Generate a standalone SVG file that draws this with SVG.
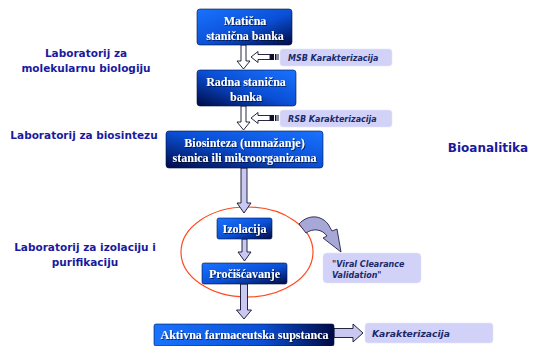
<svg xmlns="http://www.w3.org/2000/svg" width="540" height="346" viewBox="0 0 540 346">
<defs>
<linearGradient id="g1" x1="0" y1="0" x2="1" y2="1">
<stop offset="0" stop-color="#1a73ff"/><stop offset="0.55" stop-color="#0a4fd6"/><stop offset="1" stop-color="#000a45"/>
</linearGradient>
<linearGradient id="g2" x1="1" y1="0" x2="0" y2="1">
<stop offset="0" stop-color="#1a73ff"/><stop offset="0.5" stop-color="#0a4fd6"/><stop offset="1" stop-color="#000a45"/>
</linearGradient>
<linearGradient id="g3" x1="0" y1="0" x2="1" y2="0">
<stop offset="0" stop-color="#1a73ff"/><stop offset="0.6" stop-color="#0a4fd6"/><stop offset="1" stop-color="#000a45"/>
</linearGradient>
<filter id="sh" x="-10%" y="-10%" width="130%" height="140%">
<feDropShadow dx="1" dy="1" stdDeviation="0.6" flood-color="#000" flood-opacity="0.6"/>
</filter>
</defs>
<style>
.box{stroke:#001040;stroke-width:0.6}
.bt{font-family:"Liberation Serif",serif;font-weight:bold;font-size:12px;fill:#fff;text-anchor:middle}
.lb{fill:#d2d2f8;stroke:#e4e4fc;stroke-width:0.6}
.lt{font-family:"DejaVu Sans","Liberation Sans",sans-serif;font-weight:bold;font-style:italic;font-size:8px;fill:#1a2a6a}
.side{font-family:"DejaVu Sans","Liberation Sans",sans-serif;font-weight:bold;font-size:10.5px;fill:#1a1a9e;text-anchor:middle}
.ar{fill:#c8c8f0;stroke:#101030;stroke-width:0.9}
.ah{fill:#ffffff;stroke:#101030;stroke-width:0.9}
</style>

<g id="side-labels">
<text class="side" x="86" y="57">Laboratorij za</text>
<text class="side" x="86" y="72">molekularnu biologiju</text>
<text class="side" x="84" y="139">Laboratorij za biosintezu</text>
<text class="side" x="85" y="251">Laboratorij za izolaciju i</text>
<text class="side" x="85" y="266">purifikaciju</text>
<text class="side" x="488" y="151.5" style="font-size:12px">Bioanalitika</text>
</g>

<g id="ellipse"><ellipse cx="247" cy="252" rx="66" ry="45" fill="none" stroke="#ff4a20" stroke-width="1.2"/></g>

<g id="connectors">
<path class="ah" d="M241,45 H246 V61 H250 L243.5,69 L237,61 H241 Z"/>
<path class="ah" d="M251,57 L258,51.5 V54.5 H270 V59.5 H258 V62.5 Z"/>
<rect x="270" y="54" width="4" height="6" fill="#101030"/>
<rect x="275" y="54" width="1.5" height="6" fill="#101030"/>
<rect x="277.5" y="54" width="1" height="6" fill="#101030"/>
<path class="ah" d="M241,106 H246 V122 H250 L243.5,130 L237,122 H241 Z"/>
<path class="ah" d="M251,118 L258,112.5 V115.5 H270 V120.5 H258 V123.5 Z"/>
<rect x="270" y="115" width="4" height="6" fill="#101030"/>
<rect x="275" y="115" width="1.5" height="6" fill="#101030"/>
<rect x="277.5" y="115" width="1" height="6" fill="#101030"/>
<path class="ar" d="M241,168 H247 V203 H251 L244,213 L237,203 H241 Z"/>
<path class="ar" d="M242,239 H247 V252 H251 L244.5,261 L238,252 H242 Z"/>
<path class="ar" d="M240.5,284 H247.5 V310 H251.5 L244,319 L236.5,310 H240.5 Z"/>
<path class="ar" d="M334,328.5 H353 V324 L363,333 L353,342 V337.5 H334 Z"/>
<path d="M299,224 C307,215 320,214 328,224 L332,231 L337,229 L341,252 L323,238 L327,236 C322,229 313,228 306,233 Z" fill="#a8a8d8" stroke="#101030" stroke-width="0.8"/>
</g>

<g id="n-maticna">
<rect class="box" x="197" y="9" width="95" height="36" rx="3" fill="url(#g1)"/>
<g filter="url(#sh)"><text class="bt" x="245" y="25">Matična</text><text class="bt" x="245" y="40">stanična banka</text></g>
</g>
<g id="n-msb">
<rect class="lb" x="280" y="49" width="112" height="17" rx="3"/>
<text class="lt" x="288" y="61">MSB Karakterizacija</text>
</g>
<g id="n-radna">
<rect class="box" x="197" y="70" width="99" height="36" rx="3" fill="url(#g2)"/>
<g filter="url(#sh)"><text class="bt" x="246" y="86">Radna stanična</text><text class="bt" x="246" y="101">banka</text></g>
</g>
<g id="n-rsb">
<rect class="lb" x="280" y="110" width="112" height="17" rx="3"/>
<text class="lt" x="288" y="122">RSB Karakterizacija</text>
</g>
<g id="n-biosinteza">
<rect class="box" x="166" y="131" width="157" height="37" rx="3" fill="url(#g2)"/>
<g filter="url(#sh)"><text class="bt" x="244.5" y="147">Biosinteza (umnažanje)</text><text class="bt" x="244.5" y="162">stanica ili mikroorganizama</text></g>
</g>
<g id="n-izolacija">
<rect class="box" x="217" y="218" width="55" height="21" rx="2" fill="url(#g1)"/>
<g filter="url(#sh)"><text class="bt" x="244.5" y="232.5">Izolacija</text></g>
</g>
<g id="n-prociscavanje">
<rect class="box" x="202" y="263" width="85" height="21" rx="2" fill="url(#g1)"/>
<g filter="url(#sh)"><text class="bt" x="244.5" y="278">Pročišćavanje</text></g>
</g>
<g id="n-viral">
<rect class="lb" x="323" y="253" width="98" height="30" rx="4"/>
<text class="lt" x="332" y="267">"Viral Clearance</text>
<text class="lt" x="332" y="278">Validation"</text>
</g>
<g id="n-aktivna">
<rect class="box" x="154" y="324" width="180" height="22" rx="2" fill="url(#g3)"/>
<g filter="url(#sh)"><text class="bt" x="244.5" y="338.5">Aktivna farmaceutska supstanca</text></g>
</g>
<g id="n-karakterizacija">
<rect class="lb" x="365" y="323" width="128" height="20" rx="3"/>
<text class="lt" x="372" y="337" style="font-size:9.2px">Karakterizacija</text>
</g>
</svg>
